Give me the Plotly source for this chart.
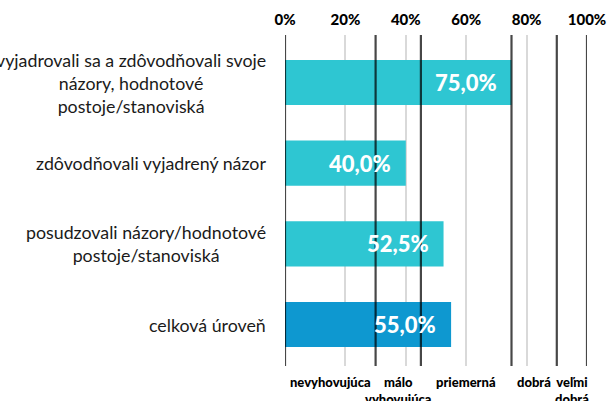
import plotly.graph_objects as go

categories = [
    "vyjadrovali sa a zdôvodňovali svoje<br>názory, hodnotové<br>postoje/stanoviská",
    "zdôvodňovali vyjadrený názor",
    "posudzovali názory/hodnotové<br>postoje/stanoviská",
    "celková úroveň",
]
values = [75.0, 40.0, 52.5, 55.0]
value_labels = ["75,0%", "40,0%", "52,5%", "55,0%"]
bar_colors = ["#2EC6D2", "#2EC6D2", "#2EC6D2", "#0E98D0"]
x_ticks = [0, 20, 40, 60, 80, 100]
x_tick_labels = ["0%", "20%", "40%", "60%", "80%", "100%"]
thresholds = [0, 30, 45, 75, 90, 100]
band_labels = ["nevyhovujúca", "málo<br>vyhovujúca", "priemerná", "dobrá", "veľmi<br>dobrá"]

ypos = list(range(len(categories)))

fig = go.Figure()
fig.add_trace(go.Bar(
    x=values, y=ypos, orientation="h",
    marker=dict(color=bar_colors, line=dict(width=0)),
    width=0.56, hoverinfo="skip",
))

shapes = []
for t in thresholds:
    shapes.append(dict(type="line", xref="x", yref="paper", x0=t, x1=t, y0=0, y1=1,
                       layer="above", line=dict(color="rgba(0,0,0,0.72)", width=2.2)))

annotations = []
for v, lab, y in zip(values, value_labels, ypos):
    annotations.append(dict(x=v, y=y, xref="x", yref="y", text=lab, showarrow=False,
                            xanchor="right", yanchor="middle", xshift=-13,
                            font=dict(family="Lato", size=22, color="white", weight=900)))

for cat, y in zip(categories, ypos):
    annotations.append(dict(x=0, y=y, xref="x", yref="y", text=cat, showarrow=False,
                            xanchor="right", yanchor="middle", xshift=-17, align="center",
                            font=dict(family="Lato", size=17.8, color="#1a1a1a", weight=400)))

for i, lab in enumerate(band_labels):
    mid = (thresholds[i] + thresholds[i + 1]) / 2
    annotations.append(dict(x=mid, y=0, xref="x", yref="paper", text=lab, showarrow=False,
                            xanchor="center", yanchor="top", yshift=-6, align="center",
                            font=dict(family="Lato", size=13, color="black", weight=900)))

fig.update_layout(
    width=611, height=401,
    margin=dict(l=285, r=24, t=35, b=35, autoexpand=False),
    paper_bgcolor="white", plot_bgcolor="white",
    showlegend=False,
    shapes=shapes,
    annotations=annotations,
    xaxis=dict(range=[0, 100], side="top", tickvals=x_ticks, ticktext=x_tick_labels,
               showgrid=True, gridcolor="#D9D9D9", gridwidth=2, zeroline=False,
               showline=False, ticks="outside", ticklen=3, tickcolor="rgba(0,0,0,0)",
               automargin=False,
               tickfont=dict(family="Lato", size=15, color="black", weight=900)),
    yaxis=dict(range=[3.514, -0.589], showticklabels=False, showgrid=False,
               zeroline=False, showline=False, automargin=False),
)

fig.write_html("out.html")
